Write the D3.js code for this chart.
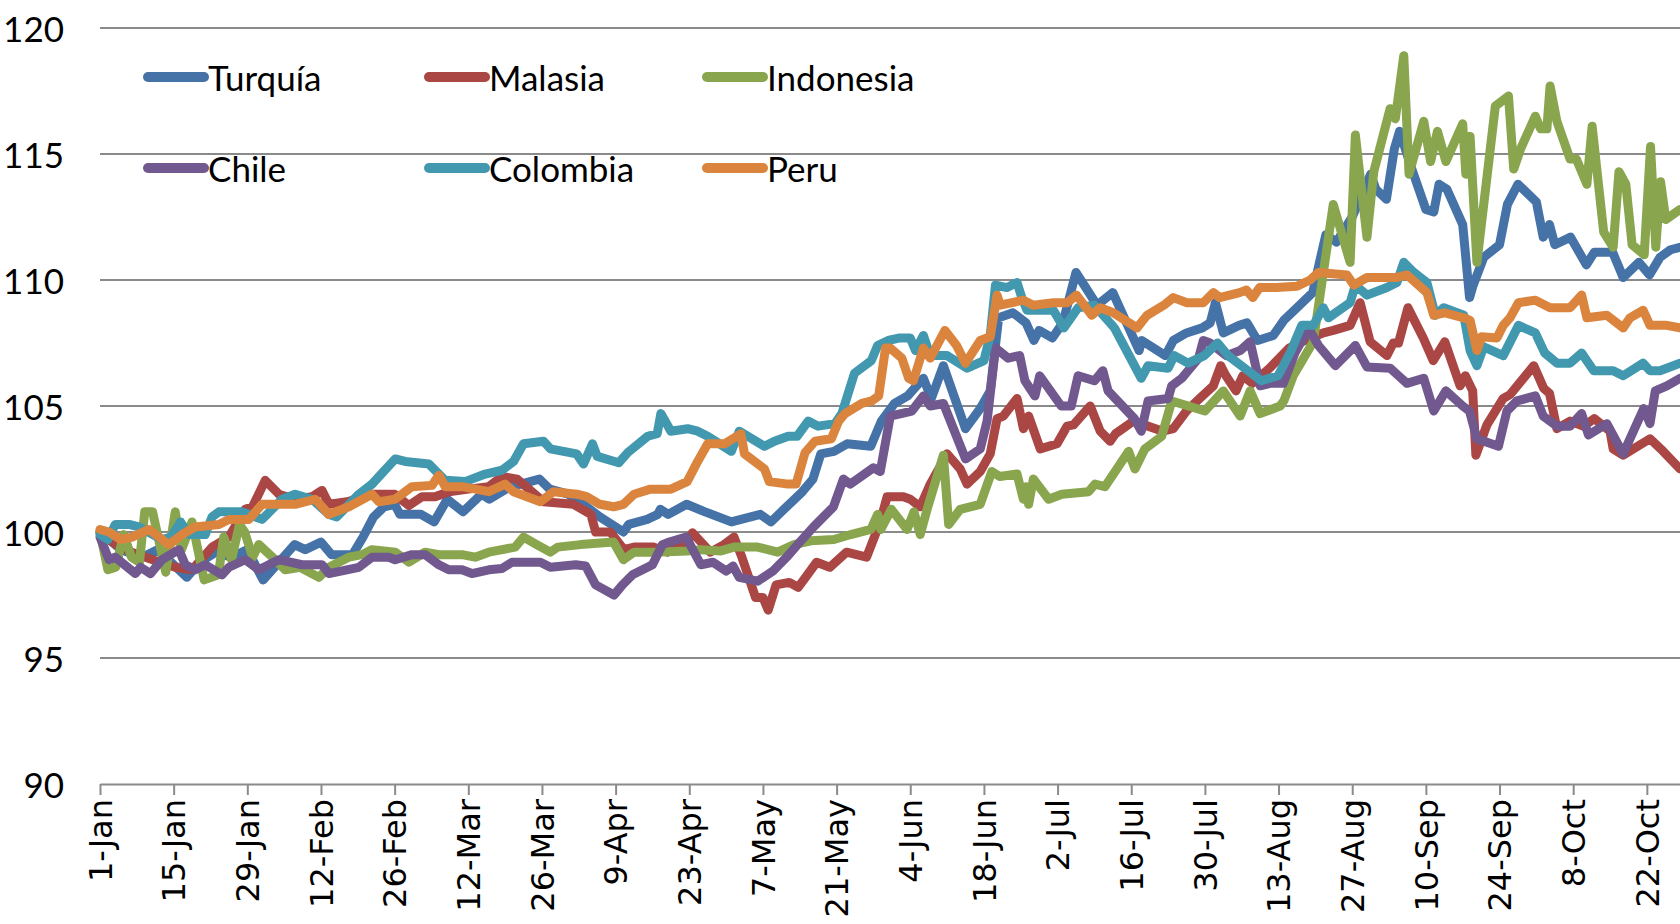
<!DOCTYPE html>
<html>
<head>
<meta charset="utf-8">
<script src="https://cdn.jsdelivr.net/npm/d3@7"></script>
<style>
  html, body { margin: 0; padding: 0; background: #fff; }
  svg { display: block; }
</style>
</head>
<body>
<script>
// ---------------- DATA ----------------
const baseDate = "2013-01-01";
const yTicks = [90, 95, 100, 105, 110, 115, 120];
const xTickDays = [0, 14, 28, 42, 56, 70, 84, 98, 112, 126, 140, 154, 168, 182, 196, 210, 224, 238, 252, 266, 280, 294];
const xTickLabels = ["1-Jan","15-Jan","29-Jan","12-Feb","26-Feb","12-Mar","26-Mar","9-Apr","23-Apr","7-May","21-May","4-Jun","18-Jun","2-Jul","16-Jul","30-Jul","13-Aug","27-Aug","10-Sep","24-Sep","8-Oct","22-Oct"];
const seriesNames = ["Turquía", "Malasia", "Indonesia", "Chile", "Colombia", "Peru"];
const seriesColors = ["#4572A7", "#AA4643", "#89A54E", "#71588F", "#4198AF", "#DB843D"];

// [day offset from 1-Jan, index value]
const turquia = [[0,100],[4,99.3],[8,99.0],[11,99.3],[14,98.7],[16.5,98.2],[19,98.8],[22,99.2],[25,99.0],[28,99.3],[31,98.1],[34,98.8],[37,99.5],[39,99.3],[42,99.6],[44,99.1],[48,99.1],[50,99.8],[52,100.6],[54,101.0],[56,101.1],[57,100.7],[61,100.7],[63.5,100.4],[66,101.3],[69,100.8],[72.5,101.5],[74,101.3],[78,101.8],[80,101.9],[83.5,102.1],[85.5,101.7],[89,101.5],[92.5,101.0],[95,100.6],[99.5,100.0],[100.5,100.3],[104,100.5],[106,100.7],[106.5,100.9],[108,100.7],[111.5,101.1],[115,100.8],[120,100.4],[125.5,100.7],[127.5,100.4],[130,100.9],[133.5,101.6],[135.5,102.1],[137,103.1],[139.5,103.2],[142,103.5],[146.5,103.4],[148.5,104.4],[151,105.1],[153.5,105.4],[156.5,106.1],[158,105.3],[160.3,106.6],[164.5,104.1],[167.3,104.9],[169.2,105.6],[170.8,108.5],[173.5,108.7],[176,108.3],[177.5,107.6],[178.5,108.0],[181,107.7],[183,108.3],[185.5,110.3],[189.5,109.0],[192.5,109.5],[197.5,107.2],[198,107.6],[202.5,107.0],[204,107.6],[206.5,107.9],[209.5,108.1],[211,108.3],[212,109.1],[213.5,107.9],[216.5,108.2],[218,108.3],[220,107.6],[223,107.8],[225,108.4],[227.5,108.9],[230.5,109.5],[232,110.9],[233,111.8],[235,111.5],[238,112.5],[241.5,114.2],[242.5,113.6],[244.5,113.2],[246,115.2],[247,115.9],[249.5,114.3],[252,112.8],[253.5,112.7],[254.5,113.8],[256,113.6],[259,112.2],[260.3,109.3],[261,109.8],[263,110.9],[266,111.4],[267.5,113.0],[269.5,113.8],[273,113.1],[274.3,111.7],[275.5,112.2],[276.5,111.4],[279.5,111.7],[282.5,110.6],[284,111.1],[287.5,111.1],[289.5,110.1],[292.5,110.7],[294.5,110.2],[296.5,110.9],[298.5,111.2],[300.3,111.3]];

const malasia = [[0,100],[3,99.5],[6,99.2],[10,98.9],[14.3,98.6],[17.5,98.5],[21.3,99.4],[24.5,99.8],[27.6,100.9],[29,101.0],[31.4,102.05],[34,101.5],[37,101.3],[40.3,101.4],[42.2,101.65],[43.5,101.1],[47,101.2],[51.7,101.5],[56,101.5],[58.7,101.05],[61.2,101.4],[63.7,101.4],[66.3,101.6],[70,101.7],[73.9,101.8],[76.4,102.2],[79.3,102.1],[84.3,101.2],[90,101.1],[93.3,100.7],[94.2,100.0],[97,100.0],[99.6,99.3],[101.5,99.4],[105.3,99.4],[107.8,99.2],[111.6,99.6],[112.6,99.97],[116,99.2],[118.6,99.5],[120.5,99.8],[122,99.0],[124.6,97.4],[126,97.4],[127,96.9],[128.5,97.9],[131,98.0],[132.7,97.8],[136.2,98.8],[138.7,98.6],[141.9,99.2],[145.7,99.0],[148.3,100.4],[149.6,101.4],[152.7,101.4],[154,101.3],[155.9,101.0],[157.8,101.9],[161,103.1],[163.5,102.5],[164.8,101.9],[167.3,102.4],[169.2,103.1],[170.5,104.5],[171.7,104.6],[174.3,105.3],[175.5,104.1],[176.5,104.6],[178.7,103.3],[181.9,103.5],[183.8,104.2],[185,104.25],[188.2,105.0],[190.1,104.0],[192,103.6],[193,103.9],[196.4,104.4],[202,104.0],[204,104.1],[206.5,104.8],[209,105.3],[211.6,105.8],[213,106.6],[214,106.2],[215.9,105.6],[217.2,106.2],[219,105.9],[222.3,106.5],[226,107.3],[229,107.6],[232.5,107.9],[234.4,108.0],[237.6,108.2],[239.5,109.1],[241.4,107.55],[244.6,107.0],[245.8,107.5],[246.8,107.5],[248.6,108.9],[251.5,107.7],[253.4,106.8],[255.6,107.55],[258.5,105.8],[259.5,106.2],[260.9,105.6],[261.5,103.05],[263.6,104.25],[266.7,105.3],[268,105.45],[272.5,106.6],[274.4,105.7],[275.5,105.5],[276.9,104.1],[279.4,104.4],[282,104.2],[284,104.5],[287,104.0],[287.6,103.3],[289.5,103.05],[294.6,103.7],[297.1,103.2],[300.3,102.5]];

const indonesia = [[0,100],[1.5,98.5],[3,98.6],[4.5,99.9],[6,99.0],[7.5,98.8],[8.5,100.8],[10,100.8],[12.5,98.4],[14.3,100.8],[15.5,99.3],[17.5,100.4],[19.8,98.1],[22.5,98.3],[23.5,99.8],[25,98.9],[26.5,100.3],[27.5,100.0],[29,99.0],[30.2,99.5],[33.3,98.9],[35.2,98.5],[38,98.6],[41.6,98.2],[43.5,98.6],[47.3,99.0],[49.8,99.1],[51.7,99.3],[56.1,99.2],[58.7,98.8],[61.8,99.2],[64.4,99.1],[68.8,99.1],[71.3,99.0],[73.9,99.2],[78.9,99.4],[80.5,99.8],[83,99.5],[85.6,99.2],[87,99.4],[91.3,99.5],[97.6,99.6],[99.5,98.9],[101.5,99.2],[105.3,99.2],[111.6,99.25],[114.2,99.3],[118,99.25],[120.5,99.4],[125,99.4],[128.8,99.2],[131.9,99.5],[135.1,99.65],[139.5,99.7],[142.7,99.9],[146.5,100.1],[147.8,100.7],[148.4,100.1],[150.4,100.9],[153.4,100.1],[154.7,100.8],[155.9,99.9],[157.2,100.9],[160.3,103.05],[161.3,100.3],[163.5,100.9],[167.3,101.1],[169.5,102.4],[171,102.2],[174.3,102.3],[175.5,101.3],[176,101.8],[176.5,101.1],[177.4,102.1],[180.3,101.3],[182.8,101.5],[187.9,101.6],[189.1,101.9],[191,101.8],[195.5,103.2],[196.7,102.5],[198.6,103.3],[201.8,103.8],[203.7,105.2],[210,104.8],[213.5,105.6],[216.7,104.6],[218.6,105.6],[220.5,104.7],[224.3,105.0],[225,105.2],[226.8,106.2],[230.6,107.55],[234.4,113.0],[237.6,110.7],[238.6,115.75],[240.8,111.7],[242.1,114.3],[245.2,116.8],[246.2,116.4],[247.8,118.9],[248.8,114.2],[251.6,116.3],[252.9,114.7],[254.2,115.9],[255.8,114.7],[259,116.2],[259.6,114.2],[260.4,115.7],[261.7,110.7],[265.2,116.9],[267.7,117.3],[268.7,114.4],[270,115.2],[272.8,116.5],[273.8,116.0],[275,116.0],[275.6,117.7],[276.9,116.3],[279.4,114.8],[280.6,114.8],[282.6,113.8],[283.6,116.1],[285.8,111.9],[287.6,111.3],[288.7,114.3],[290,113.8],[291.2,111.4],[293.5,111.0],[294.7,115.3],[295.7,111.3],[296.6,113.9],[297.6,112.4],[300.3,112.8]];

const chile = [[0,99.8],[1.7,98.9],[2.9,99.0],[6.7,98.35],[7.7,98.6],[9.6,98.35],[11.8,98.9],[15,99.3],[16.2,98.7],[18.1,98.5],[20,98.7],[23.2,98.3],[24.5,98.6],[27.6,98.9],[30.2,98.5],[34,98.9],[38.4,98.7],[42.2,98.7],[43.5,98.35],[49.2,98.6],[51.7,99.0],[54.9,99.0],[56.1,98.9],[59.3,99.1],[61.8,99.1],[64.4,98.7],[66.3,98.5],[68.8,98.5],[70.7,98.35],[73.9,98.5],[76.4,98.55],[78.3,98.8],[83.7,98.8],[85.6,98.6],[90.4,98.7],[92.3,98.65],[94.2,97.9],[97.7,97.5],[99.3,97.9],[101.2,98.3],[105,98.7],[106.9,99.5],[108.2,99.6],[111.4,99.8],[114.2,98.7],[116.5,98.8],[119,98.45],[120.3,98.65],[121.5,98.2],[125,98.05],[127.9,98.45],[130.5,99.0],[133,99.6],[135.6,100.2],[139.4,101.0],[141.3,102.1],[142.6,101.9],[147,102.55],[148.3,102.4],[150.2,104.6],[154.3,104.8],[156.5,105.4],[157.8,105.0],[160.3,105.1],[164.5,102.9],[167.3,103.3],[168.6,104.4],[170.2,107.3],[172.6,106.9],[174.8,107.0],[175.8,106.0],[177.7,105.4],[178.6,106.2],[182.7,105.0],[184.6,105.0],[185.9,106.2],[189,106.0],[190.6,106.4],[191.6,105.6],[196.6,104.5],[197.9,104.0],[199.2,105.2],[203,105.3],[203.7,105.8],[205.6,106.1],[208.8,106.9],[209.7,107.6],[211,107.5],[214.1,107.0],[216.7,107.2],[218.6,107.55],[220.5,105.8],[222.4,105.9],[224.9,105.9],[227.1,107.1],[228.7,107.7],[229.9,108.0],[231.6,107.4],[234.8,106.6],[238.6,107.4],[240.8,106.55],[245.2,106.5],[246.8,106.2],[248.4,105.9],[251.6,106.1],[253.5,104.8],[255.8,105.6],[259,105.0],[260.3,104.8],[261.7,103.7],[265.8,103.4],[267.4,104.8],[269.3,105.2],[272.8,105.4],[274.3,104.6],[276.9,104.2],[279.4,104.2],[281.6,104.7],[282.9,103.85],[286.4,104.3],[289.5,103.1],[293.4,104.9],[294.6,104.3],[295.6,105.6],[297.8,105.8],[300.3,106.1]];

const colombia = [[0,99.9],[1.5,99.7],[2.9,100.3],[5.5,100.3],[7.4,100.2],[11.8,99.7],[13.5,99.8],[15.3,100.4],[16.9,99.9],[20,99.9],[21.3,100.6],[22.6,100.8],[27,100.8],[30.8,100.5],[34.6,101.3],[37.1,101.5],[40.3,101.3],[43.5,100.7],[45,100.6],[49.2,101.5],[51.7,101.9],[56.1,102.9],[58,102.8],[62.5,102.7],[65.6,102.05],[69.4,102.0],[73.2,102.3],[76.4,102.45],[78.6,102.8],[80.5,103.5],[84.3,103.6],[85.6,103.3],[90.6,103.1],[91.9,102.7],[93.6,103.5],[94.5,103.0],[98.6,102.75],[100.3,103.15],[104.1,103.8],[105.9,103.9],[106.6,104.7],[108.5,104.0],[111.7,104.1],[113.6,104.0],[115.5,103.8],[120,103.2],[121.5,104.0],[126.3,103.4],[128.2,103.6],[130.8,103.8],[132.5,103.8],[134.6,104.4],[136.5,104.2],[139.7,104.3],[141,104.7],[143.4,106.3],[146.6,106.8],[147.8,107.4],[149.8,107.6],[152,107.7],[154,107.7],[155,107.2],[156.5,107.8],[157.8,107.0],[161,107.0],[164.8,106.5],[168,106.8],[169.2,107.8],[170.2,109.8],[172.4,109.7],[174.3,109.9],[175.2,109.3],[176.2,108.8],[181.2,108.8],[183.2,108.1],[185.9,108.9],[189,109.0],[192.8,108.1],[197.9,106.1],[199.2,106.6],[203,106.5],[204.2,107.0],[206.8,106.7],[209.9,107.0],[212.4,107.5],[214.4,107.0],[218.2,106.4],[220.7,106.0],[223.9,106.2],[226.4,107.2],[228.4,108.2],[230.6,108.2],[232.5,108.9],[233.5,108.5],[237.6,109.1],[238.6,109.8],[240.8,109.4],[244.6,109.7],[246.5,109.9],[247.8,110.7],[249.7,110.3],[252.2,109.9],[253.8,108.6],[255.4,108.9],[259.2,108.6],[260.4,107.2],[261.7,106.6],[263,107.35],[266.7,107.0],[269.6,108.2],[272.8,107.9],[274.6,107.1],[276.9,106.7],[279.4,106.7],[281.6,107.1],[283.9,106.4],[287.6,106.4],[289.5,106.2],[293.3,106.7],[294.6,106.4],[296.5,106.4],[300.3,106.7]];

const peru = [[0,100.1],[1.7,100.0],[3.9,99.7],[6.1,99.8],[9.3,100.1],[13.1,99.5],[15.6,99.9],[18.1,100.2],[22.6,100.3],[24.5,100.5],[28.3,100.5],[30.8,101.1],[37.1,101.1],[40.9,101.3],[43.5,100.7],[47.3,101.0],[51.7,101.5],[53,101.2],[56.1,101.3],[57.4,101.5],[59.3,101.8],[63.1,101.85],[64.4,102.25],[65.6,101.8],[68.8,101.8],[73.9,101.6],[77,101.9],[78.6,101.6],[83.7,101.2],[86.2,101.6],[90.6,101.5],[92.5,101.4],[95,101.1],[97.6,101.0],[99.5,101.1],[101.5,101.5],[104.6,101.7],[108.5,101.7],[111.6,102.0],[113.6,102.8],[115.5,103.5],[118.7,103.5],[121.8,103.9],[122.5,103.1],[126.3,102.5],[127.2,102.0],[130.8,101.9],[132.3,101.9],[134,103.15],[135.9,103.6],[139,103.7],[140.4,104.4],[141.6,104.7],[144.8,105.1],[146.7,105.2],[148,105.4],[149.3,107.3],[150.2,107.3],[152.4,106.9],[153.7,106.1],[154.6,106.0],[156.5,107.3],[157.8,106.9],[160.6,108.0],[162.8,107.4],[164.5,106.7],[167.3,107.6],[169.2,107.75],[170.5,109.4],[171.1,109.0],[175.5,109.2],[177.4,109.0],[181.2,109.1],[183.8,109.1],[185.6,109.4],[188.5,108.6],[190.1,108.9],[192.6,108.7],[197.1,108.1],[199,108.6],[202.2,109.0],[204,109.3],[206.6,109.1],[209.7,109.1],[211.6,109.5],[212.8,109.3],[216.6,109.5],[217.9,109.6],[219.1,109.3],[220.4,109.7],[223.6,109.7],[227.5,109.75],[230,110.0],[231.6,110.3],[237,110.2],[238.3,109.8],[240.8,110.1],[246.5,110.1],[248.4,110.2],[252.2,109.5],[253.5,108.6],[255.5,108.7],[259.2,108.5],[260.4,108.4],[261.7,107.2],[262.6,107.75],[265.5,107.7],[266.7,108.2],[268,108.5],[269.6,109.1],[272.8,109.2],[275.6,108.9],[279.4,108.9],[281.6,109.4],[282.6,108.5],[286.4,108.6],[289.5,108.1],[290.8,108.5],[293.3,108.8],[294.6,108.2],[297.8,108.2],[300.3,108.1]];

const seriesData = [turquia, malasia, indonesia, chile, colombia, peru];

// ---------------- CHART ----------------
const W = 1680, H = 924;
const DAY = 864e5;
const t0 = d3.timeParse("%Y-%m-%d")(baseDate).getTime();
const toDate = d => new Date(t0 + d * DAY);

const svg = d3.select("body").append("svg").attr("width", W).attr("height", H);

const x = d3.scaleTime().domain([toDate(0), toDate(300.3)]).range([100, 1680]);
const y = d3.scaleLinear().domain([90, 120]).range([784, 28]);

// gridlines
svg.append("g").selectAll("line")
  .data(yTicks.filter(v => v > 90))
  .join("line")
  .attr("x1", 100).attr("x2", W)
  .attr("y1", d => y(d)).attr("y2", d => y(d))
  .attr("stroke", "#8a8a8a").attr("stroke-width", 2);

// y labels
svg.append("g").selectAll("text")
  .data(yTicks)
  .join("text")
  .attr("x", 64).attr("y", d => y(d))
  .attr("text-anchor", "end").attr("dominant-baseline", "central")
  .attr("font-family", "Lato, 'Open Sans', sans-serif").attr("font-size", 35)
  .attr("fill", "#000")
  .text(d => d);

// x axis
const xAxis = d3.axisBottom(x)
  .tickValues(xTickDays.map(toDate))
  .tickFormat((d, i) => xTickLabels[i])
  .tickSize(11).tickSizeOuter(0);
const gx = svg.append("g").attr("transform", "translate(0,784)").call(xAxis);
gx.select(".domain").attr("stroke", "#8a8a8a").attr("stroke-width", 2);
gx.selectAll(".tick line").attr("stroke", "#8a8a8a").attr("stroke-width", 2);
gx.selectAll(".tick text")
  .attr("transform", "rotate(-90)")
  .attr("x", -15).attr("y", 0).attr("dy", "0.35em")
  .attr("text-anchor", "end")
  .attr("font-family", "'DejaVu Sans', sans-serif").attr("font-size", 32)
  .attr("fill", "#000");

// lines
const line = d3.line().x(d => x(toDate(d[0]))).y(d => y(d[1]));
svg.append("g").selectAll("path")
  .data(seriesData)
  .join("path")
  .attr("d", line)
  .attr("fill", "none")
  .attr("stroke", (d, i) => seriesColors[i])
  .attr("stroke-width", 9)
  .attr("stroke-linejoin", "round")
  .attr("stroke-linecap", "round");

// legend
const legX = [148, 429, 707];
const legY = [77, 168];
const leg = svg.append("g").selectAll("g")
  .data(seriesNames)
  .join("g")
  .attr("transform", (d, i) => `translate(${legX[i % 3]},${legY[Math.floor(i / 3)]})`);
leg.append("line")
  .attr("x1", 0).attr("x2", 56).attr("y1", 0).attr("y2", 0)
  .attr("stroke", (d, i) => seriesColors[i])
  .attr("stroke-width", 10).attr("stroke-linecap", "round");
leg.append("text")
  .attr("x", 60).attr("y", 0)
  .attr("dominant-baseline", "central")
  .attr("font-family", "Lato, 'Open Sans', sans-serif").attr("font-size", 35)
  .attr("fill", "#000")
  .text(d => d);
</script>
</body>
</html>
